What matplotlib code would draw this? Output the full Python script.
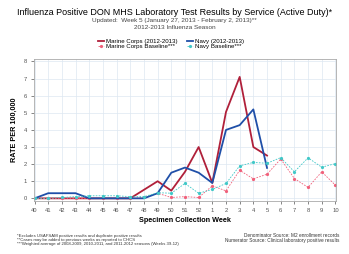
"""Influenza positive DON MHS lab results by service, 2012-2013 season."""

import matplotlib

matplotlib.use("Agg")
import matplotlib.pyplot as plt

plt.rcParams["font.family"] = ["Liberation Sans", "DejaVu Sans"]

WEEKS = ["40", "41", "42", "43", "44", "45", "46", "47", "48", "49", "50", "51", "52",
         "1", "2", "3", "4", "5", "6", "7", "8", "9", "10"]

marine_2012 = [0, 0, 0, 0, 0, 0, 0, 0, 0.5, 1.0, 0.45, 1.55, 3.0, 0.9, 5.05, 7.1, 3.0, 2.5]
navy_2012 = [0, 0.3, 0.3, 0.3, 0, 0, 0, 0, 0, 0.3, 1.5, 1.8, 1.5, 0.9, 4.0, 4.28, 5.2, 1.78]
marine_base = [0, 0, 0, 0, 0, 0, 0, 0, 0.05, 0.3, 0.05, 0.1, 0.05, 0.73, 0.44, 1.64, 1.14,
               1.41, 2.3, 1.16, 0.64, 1.55, 0.77]
navy_base = [0, 0, 0.05, 0.1, 0.15, 0.15, 0.15, 0.1, 0.1, 0.33, 0.3, 0.87, 0.3, 0.52, 0.87,
             1.9, 2.1, 2.05, 2.38, 1.55, 2.37, 1.82, 2.03]

C_MARINE = "#B0203A"
C_NAVY = "#1F4FA8"
C_MARINE_B = "#F0607A"
C_NAVY_B = "#40C8C8"

fig = plt.figure(figsize=(3.49, 2.54), dpi=100)
ax = fig.add_axes([0.097, 0.209, 0.866, 0.559])

x_all = list(range(len(WEEKS)))
ax.plot(x_all[:len(marine_2012)], marine_2012, color=C_MARINE, lw=1.3,
        label="Marine Corps (2012-2013)")
ax.plot(x_all, marine_base, color=C_MARINE_B, lw=0.6, ls=(0, (2, 1.5)),
        marker="o", ms=1.3, label="Marine Corps Baseline***")
ax.plot(x_all[:len(navy_2012)], navy_2012, color=C_NAVY, lw=1.3,
        label="Navy (2012-2013)")
ax.plot(x_all, navy_base, color=C_NAVY_B, lw=0.6, ls=(0, (2, 1.5)),
        marker="o", ms=1.3, label="Navy Baseline***")

ax.set_xlim(-0.05, len(WEEKS) - 0.95)
ax.set_ylim(-0.15, 8.15)
ax.set_xticks(x_all)
ax.set_xticklabels(WEEKS)
ax.set_yticks(range(0, 9))
ax.tick_params(labelsize=4.2, colors="#555555", length=2, width=0.5, pad=3)
ax.grid(color="#DDE8F2", lw=0.5)
ax.set_axisbelow(True)
for sp in ax.spines.values():
    sp.set_color("#AAAAAA")
    sp.set_linewidth(0.6)

ax.set_xlabel("Specimen Collection Week", fontsize=5.2, fontweight="bold", labelpad=3)
ax.set_ylabel("RATE PER 100,000", fontsize=5.2, fontweight="bold", labelpad=4)

fig.text(0.5, 0.949, "Influenza Positive DON MHS Laboratory Test Results by Service (Active Duty)*",
         ha="center", va="center", fontsize=6.5)
fig.text(0.5, 0.918, "Updated:  Week 5 (January 27, 2013 - February 2, 2013)**",
         ha="center", va="center", fontsize=4.6, color="#444444")
fig.text(0.5, 0.89, "2012-2013 Influenza Season",
         ha="center", va="center", fontsize=4.6, color="#444444")

fig.legend(loc="center", bbox_to_anchor=(0.49, 0.826), ncol=2, fontsize=4.4,
           frameon=False, handlelength=1.0, handletextpad=0.3, columnspacing=1.5,
           labelspacing=0.0, borderpad=0)

fig.text(0.049, 0.055, "*Excludes USAFSAM positive results and duplicate positive results\n"
         "**Cases may be added to previous weeks as reported to CHCS\n"
         "***Weighted average of 2008-2009, 2010-2011, and 2011-2012 seasons (Weeks 39-12)",
         ha="left", va="center", fontsize=3.1, color="#333333", linespacing=1.0)
fig.text(0.972, 0.063, "Denominator Source: M2 enrollment records\n"
         "Numerator Source: Clinical laboratory positive results",
         ha="right", va="center", fontsize=3.4, color="#333333", linespacing=1.0)

fig.savefig("out.png", dpi=100)
